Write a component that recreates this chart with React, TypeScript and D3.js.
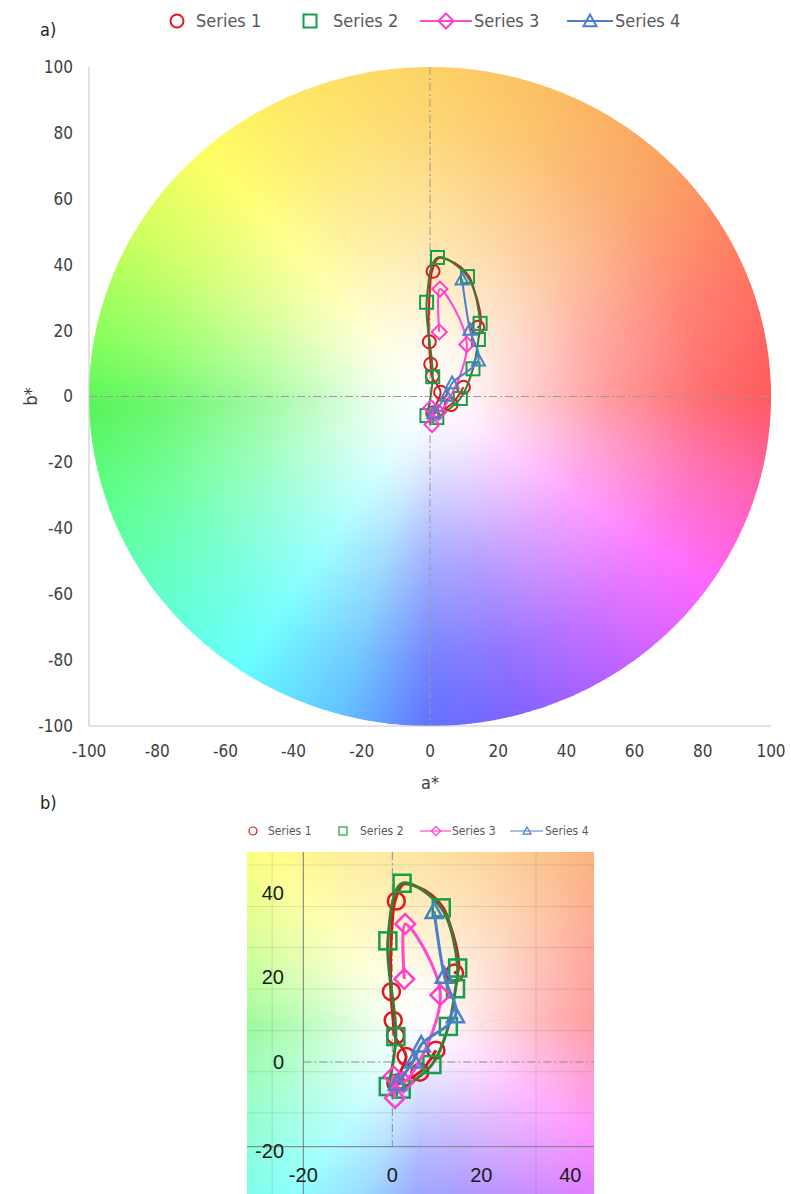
import React, { useEffect, useRef } from 'react';
import * as d3 from 'd3';

// a*, b* pairs (same data in both panels)
const series1 = [[9.8, 2.8], [6.2, -2.4], [0.8, -5.0], [3.1, 1.3], [0.7, 6.2], [0.2, 9.8], [-0.2, 16.6], [0.9, 38.0], [14.0, 21.0]];
const series2 = [[-0.9, -5.8], [0.8, 6.0], [-1.0, 28.6], [2.2, 42.2], [11.0, 36.4], [14.7, 22.2], [14.2, 17.3], [12.6, 8.4], [8.9, -0.6], [2.0, -6.4]];
const series3 = [[2.7, 19.6], [2.9, 32.6], [10.8, 15.8], [2.5, -4.8], [0.3, -3.4], [0.6, -8.5]];
const series4 = [[9.4, 35.6], [11.7, 20.3], [14.2, 11.0], [6.5, 4.1], [4.8, 0.3], [1.1, -5.0]];
// the red smoothed curve drawn with series 1 (traced, it runs over the top)
const curve1 = [[9.8, 2.8], [6.2, -2.4], [0.8, -5.0], [3.1, 1.3], [0.6, 6.0], [0.2, 9.8], [-0.3, 16.2], [-0.4, 23.7], [-0.1, 31.6], [0.6, 38.0], [2.5, 42.0], [5.5, 41.4], [8.9, 39.4], [11.5, 36.3], [13.0, 32.3], [14.3, 27.6], [14.9, 23.7], [14.8, 21.7], [13.9, 20.9]];
const seriesNames = ['Series 1', 'Series 2', 'Series 3', 'Series 4'];

const ticksA = [-100, -80, -60, -40, -20, 0, 20, 40, 60, 80, 100];
const ticksB = [-20, 0, 20, 40];
// faint grid of the background picture in panel b
const bgGridA = [-27, 32.3];
const bgGridB = [46.5, 36.7, 27.0, 17.2, 7.4, -2.3, -12.0];

// hue around the colour wheel (angle from +a*, counter-clockwise)
const hueAngles = [0, 20, 45, 70, 90, 115, 132, 150, 170, 182, 200, 220, 236, 255, 270, 285, 305, 325, 345, 360];
const hueColors = ['#ff5a5e', '#ff7262', '#fba062', '#fcbf62', '#fdd266', '#fee864', '#ffff62', '#cfff5e', '#86ff5c', '#58f55a', '#5eff92', '#62ffd2', '#66ffff', '#62c2ff', '#6272ff', '#8262ff', '#c262ff', '#ff66ff', '#ff62a8', '#ff5a5e'];

const hueColor = (deg: number) => {
  const d = ((deg % 360) + 360) % 360;
  let i = 0;
  while (i < hueAngles.length - 2 && d > hueAngles[i + 1]) i++;
  const t = (d - hueAngles[i]) / (hueAngles[i + 1] - hueAngles[i]);
  return d3.interpolateRgb(hueColors[i], hueColors[i + 1])(t);
};

const styles = [
  { mark: 'circle', color: '#e5161d', line: '#d21a1a' },
  { mark: 'square', color: '#14a04a', line: '#3a7c33' },
  { mark: 'diamond', color: '#ff3fcc', line: '#ff4acd' },
  { mark: 'triangle', color: '#4a80c8', line: '#4a80c8' },
];

function marker(g: any, type: string, x: number, y: number, s: number, color: string, sw: number) {
  if (type === 'circle') {
    g.append('circle').attr('cx', x).attr('cy', y).attr('r', s / 2).attr('fill', 'none').attr('stroke', color).attr('stroke-width', sw);
  } else if (type === 'square') {
    g.append('rect').attr('x', x - s / 2).attr('y', y - s / 2).attr('width', s).attr('height', s).attr('fill', 'none').attr('stroke', color).attr('stroke-width', sw);
  } else if (type === 'diamond') {
    const h = s * 0.58;
    g.append('path').attr('d', `M${x},${y - h}L${x + h},${y}L${x},${y + h}L${x - h},${y}Z`).attr('fill', 'none').attr('stroke', color).attr('stroke-width', sw);
  } else {
    const h = s * 0.5;
    g.append('path').attr('d', `M${x},${y - h}L${x + h},${y + h * 0.8}L${x - h},${y + h * 0.8}Z`).attr('fill', 'none').attr('stroke', color).attr('stroke-width', sw);
  }
}

function wheel(g: any, cx: number, cy: number, rx: number, ry: number, grad: string) {
  const wg = g.append('g').attr('transform', `translate(${cx},${cy}) scale(${rx / 100},${ry / 100})`);
  const n = 360;
  const arc = d3.arc<any>().innerRadius(0).outerRadius(100);
  for (let i = 0; i < n; i++) {
    const t0 = (i / n) * 2 * Math.PI;
    const t1 = ((i + 1) / n) * 2 * Math.PI;
    const mid = ((t0 + t1) / 2) * 180 / Math.PI;
    wg.append('path')
      .attr('d', arc({ startAngle: t0, endAngle: t1 + 0.004 }))
      .attr('fill', hueColor(90 - mid));
  }
  wg.append('circle').attr('r', 100).attr('fill', `url(#${grad})`);
}

const NARROW = '"Liberation Sans Narrow", "DejaVu Sans Condensed", "Liberation Sans", sans-serif';

function legend(g: any, y: number, pos: number[][], s: number, sw: number, fs: number) {
  // pos: [markerX, lineStart, lineEnd, textX]
  seriesNames.forEach((name, i) => {
    const st = styles[i];
    const [mx, l0, l1, tx] = pos[i];
    if (l1 > l0) g.append('line').attr('x1', l0).attr('x2', l1).attr('y1', y).attr('y2', y).attr('stroke', st.line).attr('stroke-width', sw);
    marker(g, st.mark, mx, y, s, st.color, sw);
    g.append('text').attr('x', tx).attr('y', y).attr('dy', '0.35em').attr('font-size', fs).attr('fill', '#595959').attr('font-family', NARROW).text(name);
  });
}

export default function App() {
  const ref = useRef<SVGSVGElement>(null);

  useEffect(() => {
    const svg = d3.select(ref.current);
    svg.selectAll('*').remove();
    const defs = svg.append('defs');
    const rg = defs.append('radialGradient').attr('id', 'fade');
    [[0, 1], [0.15, 0.88], [0.5, 0.42], [0.8, 0.12], [1, 0]].forEach(([o, a]) =>
      rg.append('stop').attr('offset', o).attr('stop-color', '#fff').attr('stop-opacity', a));
    const rg2 = defs.append('radialGradient').attr('id', 'fade2');
    [[0, 1], [0.12, 0.9], [0.4, 0.55], [0.75, 0.2], [1, 0.05]].forEach(([o, a]) =>
      rg2.append('stop').attr('offset', o).attr('stop-color', '#fff').attr('stop-opacity', a));
    defs.append('clipPath').attr('id', 'clipB').append('rect').attr('x', 247).attr('y', 852).attr('width', 347).attr('height', 342);

    const lines = [curve1, series2, series3, series4];
    const marks = [series1, series2, series3, series4];

    // ---------- panel a ----------
    const x = d3.scaleLinear().domain([-100, 100]).range([89, 771]);
    const y = d3.scaleLinear().domain([-100, 100]).range([726, 67]);
    const ga = svg.append('g');
    wheel(ga, x(0), y(0), x(100) - x(0), y(0) - y(100), 'fade');

    ga.append('line').attr('x1', x(0)).attr('x2', x(0)).attr('y1', y(100)).attr('y2', y(-100))
      .attr('stroke', '#9a9a9a').attr('stroke-dasharray', '8,3,2,3');
    ga.append('line').attr('x1', x(-100)).attr('x2', x(100)).attr('y1', y(0)).attr('y2', y(0))
      .attr('stroke', '#9a9a9a').attr('stroke-dasharray', '8,3,2,3');
    ga.append('line').attr('x1', x(-100)).attr('x2', x(-100)).attr('y1', y(100)).attr('y2', y(-100)).attr('stroke', '#c4c4c4');
    ga.append('line').attr('x1', x(-100)).attr('x2', x(100)).attr('y1', y(-100)).attr('y2', y(-100)).attr('stroke', '#c4c4c4');

    ticksA.forEach((t) => {
      ga.append('text').attr('x', 73).attr('y', y(t)).attr('dy', '0.35em').attr('text-anchor', 'end')
        .attr('font-size', 17).attr('fill', '#404040').attr('font-family', NARROW).text(t);
      ga.append('text').attr('x', x(t)).attr('y', 751).attr('dy', '0.35em').attr('text-anchor', 'middle')
        .attr('font-size', 17).attr('fill', '#404040').attr('font-family', NARROW).text(t);
    });
    ga.append('text').attr('x', x(0)).attr('y', 783).attr('dy', '0.35em').attr('text-anchor', 'middle')
      .attr('font-size', 18).attr('fill', '#404040').attr('font-family', NARROW).text('a*');
    ga.append('text').attr('transform', `translate(31,${y(0)}) rotate(-90)`).attr('dy', '0.35em').attr('text-anchor', 'middle')
      .attr('font-size', 18).attr('fill', '#404040').attr('font-family', NARROW).text('b*');

    const lineA = d3.line<number[]>().x((d) => x(d[0])).y((d) => y(d[1])).curve(d3.curveCatmullRom.alpha(0.5));
    marks.forEach((data, i) => {
      const st = styles[i];
      ga.append('path').attr('d', lineA(lines[i] as any)).attr('fill', 'none').attr('stroke', st.line).attr('stroke-width', 2);
      data.forEach((d) => marker(ga, st.mark, x(d[0]), y(d[1]), 13, st.color, 2));
    });

    svg.append('text').attr('x', 40).attr('y', 30).attr('dy', '0.35em').attr('font-size', 18).attr('fill', '#222')
      .attr('font-family', NARROW).text('a)');
    legend(svg, 21, [[177, 0, 0, 196], [310, 0, 0, 333], [446, 420, 472, 474], [590, 567, 613, 615]], 13, 2, 18);

    // ---------- panel b ----------
    const xb = d3.scaleLinear().domain([-20, 40]).range([303.3, 570.3]);
    const yb = d3.scaleLinear().domain([-20, 40]).range([1146.7, 892.6]);
    const gb = svg.append('g');
    const bg = gb.append('g').attr('clip-path', 'url(#clipB)');
    bg.append('rect').attr('x', 247).attr('y', 852).attr('width', 347).attr('height', 342).attr('fill', '#fff');
    wheel(bg, xb(6), yb(10), (xb(100) - xb(0)) * 0.72, (yb(0) - yb(100)) * 0.72, 'fade2');
    bgGridB.forEach((v) => bg.append('line').attr('x1', 247).attr('x2', 594).attr('y1', yb(v)).attr('y2', yb(v))
      .attr('stroke', '#000').attr('stroke-opacity', 0.1));
    bgGridA.forEach((v) => bg.append('line').attr('x1', xb(v)).attr('x2', xb(v)).attr('y1', 852).attr('y2', 1194)
      .attr('stroke', '#000').attr('stroke-opacity', 0.1));

    bg.append('line').attr('x1', xb(-20)).attr('x2', xb(-20)).attr('y1', 852).attr('y2', 1194).attr('stroke', '#7a7a7a');
    bg.append('line').attr('x1', 247).attr('x2', 594).attr('y1', yb(-20)).attr('y2', yb(-20)).attr('stroke', '#7a7a7a');
    bg.append('line').attr('x1', xb(0)).attr('x2', xb(0)).attr('y1', 852).attr('y2', yb(-20))
      .attr('stroke', '#8a8a8a').attr('stroke-dasharray', '8,3,2,3');
    bg.append('line').attr('x1', xb(-20)).attr('x2', 594).attr('y1', yb(0)).attr('y2', yb(0))
      .attr('stroke', '#8a8a8a').attr('stroke-dasharray', '8,3,2,3');

    ticksB.forEach((t) => {
      gb.append('text').attr('x', 284).attr('y', yb(t) + (t === -20 ? 4 : 0)).attr('dy', '0.35em').attr('text-anchor', 'end')
        .attr('font-size', 20).attr('fill', '#1a1a1a').attr('font-family', '"Liberation Sans", Arial, sans-serif').text(t);
      gb.append('text').attr('x', xb(t)).attr('y', 1175).attr('dy', '0.35em').attr('text-anchor', 'middle')
        .attr('font-size', 20).attr('fill', '#1a1a1a').attr('font-family', '"Liberation Sans", Arial, sans-serif').text(t);
    });

    const lineB = d3.line<number[]>().x((d) => xb(d[0])).y((d) => yb(d[1])).curve(d3.curveCatmullRom.alpha(0.5));
    marks.forEach((data, i) => {
      const st = styles[i];
      gb.append('path').attr('d', lineB(lines[i] as any)).attr('fill', 'none').attr('stroke', st.line).attr('stroke-width', 3);
      data.forEach((d) => marker(gb, st.mark, xb(d[0]), yb(d[1]), 17, st.color, 2.5));
    });

    svg.append('text').attr('x', 40).attr('y', 803).attr('dy', '0.35em').attr('font-size', 18).attr('fill', '#222')
      .attr('font-family', NARROW).text('b)');
    legend(svg, 831, [[253, 0, 0, 268], [343, 0, 0, 360], [436, 420, 451, 452], [527, 510, 543, 545]], 8, 1.2, 12);
  }, []);

  return (
    <svg ref={ref} width={791} height={1194} style={{ position: 'absolute', left: 0, top: 0, background: '#fff' }} />
  );
}
